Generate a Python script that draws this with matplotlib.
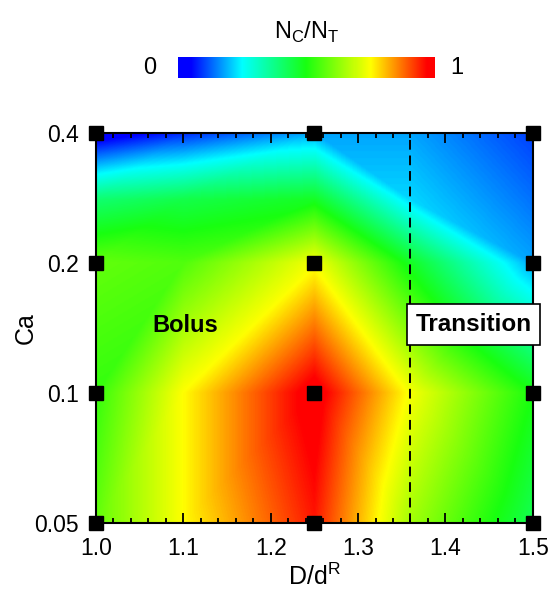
import matplotlib.pyplot as plt
import matplotlib.tri as mtri
import numpy as np
from matplotlib.colors import LinearSegmentedColormap

plt.rcParams['font.family'] = ['Liberation Sans', 'DejaVu Sans']

# field nodes
dr_nodes = [1.0, 1.1, 1.25, 1.36, 1.5]
ca_nodes = [0.05, 0.1, 0.2, 0.28, 0.4]
nc_nt = [
    [0.58, 0.75, 0.95, 0.65, 0.43],   # Ca = 0.05
    [0.53, 0.75, 1.00, 0.74, 0.50],   # Ca = 0.1
    [0.58, 0.56, 0.74, 0.48, 0.18],   # Ca = 0.2
    [0.40, 0.44, 0.48, 0.22, 0.14],   # Ca = 0.28
    [0.00, 0.08, 0.18, 0.18, 0.10],   # Ca = 0.4
]
# which way each cell is split: 0 = lower-left to upper-right, 1 = upper-left to lower-right
split = [
    [0, 0, 1, 1],
    [0, 0, 1, 0],
    [0, 0, 1, 1],
    [0, 0, 1, 1],
]

# simulated cases (markers)
sim_dr = [1.0, 1.25, 1.5]
sim_ca = [0.05, 0.1, 0.2, 0.4]

ca_ticks = [0.05, 0.1, 0.2, 0.4]
dr_line = 1.36


def ylog(c):
    return np.log2(np.asarray(c) / 0.05)


def main():
    fig = plt.figure(figsize=(5.51, 5.94), dpi=100)
    ax = fig.add_axes([0.174, 0.1195, 0.793, 0.657])

    cmap = LinearSegmentedColormap.from_list('tec', [
        (0.0, '#0000ff'), (0.05, '#0000ff'), (0.25, '#00ffff'),
        (0.5, '#18ff10'), (0.75, '#ffff00'), (0.97, '#ff0000'),
        (1.0, '#ff0000')])

    nx, ny = len(dr_nodes), len(ca_nodes)
    gx, gy = np.meshgrid(dr_nodes, ylog(ca_nodes))
    z = np.array(nc_nt).ravel()
    tris = []
    for j in range(ny - 1):
        for i in range(nx - 1):
            bl, br = j * nx + i, j * nx + i + 1
            tl, tr = bl + nx, br + nx
            if split[j][i] == 0:
                tris += [[bl, br, tr], [bl, tr, tl]]
            else:
                tris += [[bl, br, tl], [br, tr, tl]]
    tri = mtri.Triangulation(gx.ravel(), gy.ravel(), tris)
    interp = mtri.LinearTriInterpolator(tri, z)
    fx, fy = np.meshgrid(np.linspace(1.0, 1.5, 500), np.linspace(0, 3, 450))
    fz = interp(fx, fy)
    im = ax.imshow(fz, extent=[1.0, 1.5, 0, 3], origin='lower', aspect='auto',
                   cmap=cmap, vmin=0, vmax=1, interpolation='bilinear')

    ax.axvline(dr_line, color='k', lw=1.4, ls=(0, (5, 3)), zorder=3)

    mx, my = np.meshgrid(sim_dr, ylog(sim_ca))
    ax.plot(mx.ravel(), my.ravel(), 's', color='k', ms=10.5, clip_on=False, zorder=6)

    ax.text(1.102, ylog(0.143), 'Bolus', ha='center', va='center',
            fontsize=17, fontweight='bold', zorder=4)
    ax.text(1.432, ylog(0.144), 'Transition', ha='center', va='center',
            fontsize=17.5, fontweight='bold', zorder=7, clip_on=False,
            bbox=dict(boxstyle='square,pad=0.35', fc='white', ec='k', lw=1.2))

    ax.set_xlim(1.0, 1.5)
    ax.set_ylim(0, 3)
    ax.set_xticks(np.arange(1.0, 1.51, 0.1))
    ax.set_xticks(np.arange(1.0, 1.51, 0.02), minor=True)
    ax.set_xticklabels(['%.1f' % v for v in np.arange(1.0, 1.51, 0.1)])
    ax.set_yticks(ylog(ca_ticks))
    ax.set_yticklabels([str(v) for v in ca_ticks])
    ax.tick_params(axis='x', which='both', direction='in', top=True, bottom=True,
                   labelsize=16.5, pad=10, width=1.3)
    ax.tick_params(axis='x', which='major', length=7)
    ax.tick_params(axis='x', which='minor', length=3.5)
    ax.tick_params(axis='y', length=0, labelsize=16.5, pad=12)
    for s in ax.spines.values():
        s.set_linewidth(1.5)

    ax.set_xlabel('D/d$^\\mathregular{R}$', fontsize=18, labelpad=3)
    ax.set_ylabel('Ca', fontsize=18, labelpad=-2)

    cax = fig.add_axes([0.323, 0.868, 0.466, 0.036])
    cb = fig.colorbar(im, cax=cax, orientation='horizontal')
    cb.outline.set_visible(False)
    cb.set_ticks([])
    cax.text(-0.11, 0.5, '0', transform=cax.transAxes, ha='center', va='center', fontsize=17)
    cax.text(1.085, 0.5, '1', transform=cax.transAxes, ha='center', va='center', fontsize=17)
    fig.text(0.557, 0.945, 'N$_\\mathregular{C}$/N$_\\mathregular{T}$',
             ha='center', va='center', fontsize=17)

    fig.savefig('out.png', dpi=100)


if __name__ == '__main__':
    main()
